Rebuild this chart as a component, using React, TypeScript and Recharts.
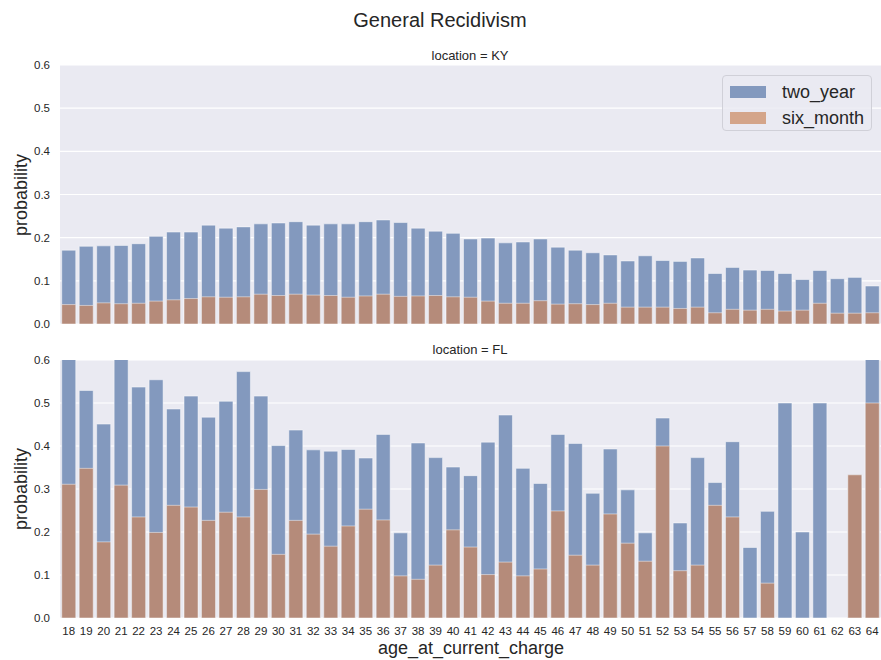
import React from 'react';
import { BarChart, Bar, XAxis, YAxis, CartesianGrid, Legend } from 'recharts';

const ages = [18, 19, 20, 21, 22, 23, 24, 25, 26, 27, 28, 29, 30, 31, 32, 33, 34, 35, 36, 37, 38, 39, 40,
  41, 42, 43, 44, 45, 46, 47, 48, 49, 50, 51, 52, 53, 54, 55, 56, 57, 58, 59, 60, 61, 62, 63, 64];

const kyTwoYear = [0.171, 0.180, 0.181, 0.182, 0.186, 0.203, 0.213, 0.213, 0.229, 0.222, 0.225, 0.232, 0.234,
  0.237, 0.229, 0.232, 0.232, 0.237, 0.241, 0.235, 0.222, 0.215, 0.210,
  0.197, 0.199, 0.188, 0.190, 0.197, 0.178, 0.171, 0.165, 0.160, 0.146, 0.158, 0.147, 0.145, 0.153,
  0.117, 0.131, 0.125, 0.124, 0.117, 0.103, 0.124, 0.105, 0.108, 0.088];
const kySixMonth = [0.045, 0.043, 0.049, 0.047, 0.048, 0.053, 0.056, 0.059, 0.063, 0.062, 0.063, 0.069, 0.066,
  0.069, 0.067, 0.066, 0.062, 0.065, 0.069, 0.064, 0.065, 0.066, 0.063,
  0.062, 0.053, 0.048, 0.048, 0.054, 0.046, 0.047, 0.045, 0.048, 0.039, 0.039, 0.039, 0.036, 0.039,
  0.026, 0.034, 0.032, 0.034, 0.030, 0.032, 0.048, 0.025, 0.025, 0.026];

const flTwoYear = [0.65, 0.529, 0.451, 0.65, 0.537, 0.554, 0.486, 0.516, 0.467, 0.504, 0.573, 0.516, 0.401,
  0.437, 0.391, 0.388, 0.392, 0.372, 0.427, 0.198, 0.407, 0.373, 0.351,
  0.331, 0.409, 0.472, 0.348, 0.313, 0.427, 0.406, 0.290, 0.393, 0.298, 0.198, 0.465, 0.221, 0.373,
  0.315, 0.410, 0.164, 0.248, 0.5, 0.2, 0.5, 0, 0.333, 1.0];
const flSixMonth = [0.311, 0.348, 0.177, 0.309, 0.235, 0.199, 0.262, 0.258, 0.227, 0.246, 0.235, 0.299, 0.148,
  0.227, 0.195, 0.167, 0.214, 0.253, 0.228, 0.098, 0.090, 0.123, 0.205,
  0.165, 0.101, 0.130, 0.098, 0.114, 0.249, 0.146, 0.123, 0.242, 0.174, 0.132, 0.4, 0.110, 0.123,
  0.262, 0.235, 0, 0.081, 0, 0, 0, 0, 0.333, 0.5];

const yTicks = [0, 0.1, 0.2, 0.3, 0.4, 0.5, 0.6];

const FONT = '"Liberation Sans", Arial, sans-serif';
const BLUE = '#8399be';
const BROWN = '#b58b7a';
const LEGEND_ORANGE = '#d4a58a';
const BG = '#eaeaf2';

const kyData = ages.map((a, i) => ({ age: a, two_year: kyTwoYear[i], six_month: kySixMonth[i] }));
const flData = ages.map((a, i) => ({ age: a, two_year: flTwoYear[i], six_month: flSixMonth[i] }));

const LegendBox = () => (
  <div style={{
    width: 150, height: 56, background: 'rgba(234,234,242,0.85)', border: '1px solid #d0d0d8',
    borderRadius: 4, fontFamily: FONT, fontSize: 18, color: '#262626', boxSizing: 'border-box',
  }}>
    {[['two_year', BLUE], ['six_month', LEGEND_ORANGE]].map(([name, c], i) => (
      <div key={name} style={{ position: 'absolute', left: 8, top: 6 + i * 26, display: 'flex', alignItems: 'center' }}>
        <span style={{ display: 'inline-block', width: 36, height: 12, background: c, marginRight: 16 }} />
        <span style={{ lineHeight: '22px' }}>{name}</span>
      </div>
    ))}
  </div>
);

const Panel = ({ data, height, margin, showX, legend }: any) => (
  <BarChart width={881} height={height} data={data} margin={margin} barCategoryGap="10%">
    <CartesianGrid vertical={false} stroke="#ffffff" strokeWidth={1.2} fill={BG} />
    <XAxis xAxisId={0} dataKey="age" hide={!showX} interval={0} axisLine={false} tickLine={false}
      height={30} tickMargin={3} tick={{ fill: '#262626', fontSize: 11.5, fontFamily: FONT }} />
    <XAxis xAxisId={1} dataKey="age" hide />
    <YAxis domain={[0, 0.6]} ticks={yTicks} allowDataOverflow width={60} axisLine={false} tickLine={false}
      tickMargin={4} tickFormatter={(v: number) => v.toFixed(1)}
      tick={{ fill: '#262626', fontSize: 11.5, fontFamily: FONT }} />
    {legend && (
      <Legend layout="vertical" align="center" verticalAlign="middle" content={() => <LegendBox />}
        wrapperStyle={{ left: 722, top: 75, width: 152, height: 58 }} />
    )}
    <Bar xAxisId={0} dataKey="two_year" fill={BLUE} stroke="#ffffff" strokeOpacity={0.6} strokeWidth={0.8}
      isAnimationActive={false} />
    <Bar xAxisId={1} dataKey="six_month" fill={BROWN} stroke="#ffffff" strokeOpacity={0.6} strokeWidth={0.8}
      isAnimationActive={false} />
  </BarChart>
);

const textStyle: React.CSSProperties = {
  position: 'absolute', fontFamily: FONT, color: '#262626', whiteSpace: 'nowrap',
  transform: 'translate(-50%, -50%)', lineHeight: 1.3,
};

export default function App() {
  return (
    <div style={{ position: 'absolute', left: 0, top: 0, width: 881, height: 660, background: '#fff' }}>
      <div style={{ position: 'absolute', left: 0, top: 0 }}>
        <Panel data={kyData} height={330} margin={{ top: 65, right: 0, bottom: 6, left: 0 }} showX={false} legend />
      </div>
      <div style={{ position: 'absolute', left: 0, top: 330 }}>
        <Panel data={flData} height={330} margin={{ top: 30, right: 0, bottom: 12, left: 0 }} showX legend={false} />
      </div>
      <div style={{ ...textStyle, left: 440, top: 20, fontSize: 20 }}>General Recidivism</div>
      <div style={{ ...textStyle, left: 470, top: 56, fontSize: 13 }}>location = KY</div>
      <div style={{ ...textStyle, left: 470, top: 350, fontSize: 13 }}>location = FL</div>
      <div style={{ ...textStyle, left: 22, top: 195, fontSize: 18, transform: 'translate(-50%, -50%) rotate(-90deg)' }}>probability</div>
      <div style={{ ...textStyle, left: 22, top: 489, fontSize: 18, transform: 'translate(-50%, -50%) rotate(-90deg)' }}>probability</div>
      <div style={{ ...textStyle, left: 471, top: 649, fontSize: 18 }}>age_at_current_charge</div>
    </div>
  );
}
